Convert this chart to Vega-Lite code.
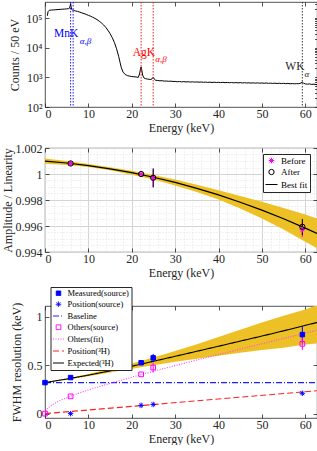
{
"$schema": "https://vega.github.io/schema/vega-lite/v6.json",
"padding": {"left": 0, "top": 1, "right": 0, "bottom": 0},
"spacing": 7,
"config": {
  "font": "Liberation Serif",
  "view": {"stroke": "#262626", "strokeWidth": 0.8},
  "style": {"guide-title": {"font": "Liberation Serif", "fontWeight": "normal", "fontSize": 12}, "guide-label": {"font": "Liberation Serif", "fontSize": 12}},
  "axis": {"domain": false, "grid": false, "labelOverlap": false, "labelFont": "Liberation Serif", "labelFontSize": 12, "labelColor": "#262626", "titleFont": "Liberation Serif", "titleFontSize": 12, "titleFontWeight": "normal", "titleColor": "#262626", "tickColor": "#262626", "tickSize": -4, "tickWidth": 0.8},
  "axisX": {"labelPadding": 5, "titlePadding": 3, "titleFont": "Liberation Serif", "titleFontWeight": "normal", "titleFontSize": 12},
  "axisY": {"labelPadding": 7, "titlePadding": 4, "titleFont": "Liberation Serif", "titleFontWeight": "normal", "titleFontSize": 12},
  "legend": {"labelFont": "Liberation Serif", "labelFontSize": 9, "labelColor": "#000000", "fillColor": "#ffffff", "strokeColor": "#262626", "padding": 2, "rowPadding": 1, "symbolStrokeWidth": 1, "labelOffset": 3}
},
"resolve": {"scale": {"x": "independent", "y": "independent", "color": "independent", "stroke": "independent", "fill": "independent", "shape": "independent", "size": "independent", "strokeDash": "independent"}},
"vconcat": [
{
 "width": 272, "height": 105,
 "resolve": {"axis": {"x": "independent", "y": "independent"}},
 "layer": [
  {"data": {"values": [
   {"E":0.55,"c":120000},{"E":0.7,"c":165000},{"E":1,"c":185000},{"E":1.5,"c":187000},{"E":2,"c":190000},{"E":2.5,"c":192000},{"E":3,"c":195000},{"E":3.5,"c":197000},{"E":4,"c":200000},{"E":4.5,"c":202000},{"E":5,"c":205000},{"E":5.4,"c":208000},{"E":5.65,"c":215000},{"E":5.8,"c":260000},{"E":5.9,"c":310000},{"E":6.0,"c":250000},{"E":6.15,"c":195000},{"E":6.35,"c":185000},{"E":6.5,"c":188000},{"E":6.7,"c":180000},{"E":7,"c":175000},{"E":7.5,"c":168000},{"E":8,"c":160000},{"E":8.5,"c":150000},{"E":9,"c":142000},{"E":9.5,"c":133000},{"E":10,"c":124000},{"E":10.5,"c":116000},{"E":11,"c":107000},{"E":11.5,"c":98000},{"E":12,"c":89000},{"E":12.5,"c":79000},{"E":13,"c":69000},{"E":13.5,"c":59000},{"E":14,"c":49000},{"E":14.5,"c":39000},{"E":15,"c":30000},{"E":15.5,"c":22000},{"E":16,"c":15000},{"E":16.5,"c":9200},{"E":17,"c":5000},{"E":17.3,"c":3200},{"E":17.6,"c":2100},{"E":18,"c":1500},{"E":18.5,"c":1250},{"E":19,"c":1150},{"E":19.5,"c":1100},{"E":20,"c":1070},{"E":20.5,"c":1050},{"E":21,"c":1030},{"E":21.5,"c":1000},{"E":21.8,"c":1300},{"E":22.0,"c":1900},{"E":22.15,"c":2250},{"E":22.3,"c":1800},{"E":22.5,"c":1200},{"E":22.8,"c":960},{"E":23.2,"c":900},{"E":23.6,"c":880},{"E":24,"c":860},{"E":24.4,"c":850},{"E":24.7,"c":900},{"E":24.95,"c":1010},{"E":25.2,"c":870},{"E":25.5,"c":800},{"E":26,"c":785},{"E":26.5,"c":765},{"E":27,"c":772},{"E":27.5,"c":748},{"E":28,"c":752},{"E":28.5,"c":738},{"E":29,"c":745},{"E":29.5,"c":728},
   {"E":30,"c":730},{"E":30.5,"c":712},{"E":31,"c":725},{"E":31.5,"c":705},{"E":32,"c":718},{"E":32.5,"c":700},{"E":33,"c":712},{"E":33.5,"c":695},{"E":34,"c":708},{"E":34.5,"c":690},{"E":35,"c":702},{"E":35.5,"c":688},{"E":36,"c":698},{"E":36.5,"c":680},{"E":37,"c":693},{"E":37.5,"c":676},{"E":38,"c":690},{"E":38.5,"c":672},{"E":39,"c":686},{"E":39.5,"c":670},{"E":40,"c":682},{"E":40.5,"c":665},{"E":41,"c":679},{"E":41.5,"c":662},{"E":42,"c":675},{"E":42.5,"c":660},{"E":43,"c":672},{"E":43.5,"c":655},{"E":44,"c":668},{"E":44.5,"c":652},{"E":45,"c":665},{"E":45.5,"c":648},{"E":46,"c":662},{"E":46.5,"c":645},{"E":47,"c":658},{"E":47.5,"c":640},{"E":48,"c":655},{"E":48.5,"c":638},{"E":49,"c":652},{"E":49.5,"c":635},{"E":50,"c":648},{"E":50.5,"c":632},{"E":51,"c":645},{"E":51.5,"c":628},{"E":52,"c":640},{"E":52.5,"c":625},{"E":53,"c":638},{"E":53.5,"c":620},{"E":54,"c":634},{"E":54.5,"c":618},{"E":55,"c":630},{"E":55.5,"c":612},{"E":56,"c":626},{"E":56.5,"c":608},{"E":57,"c":620},{"E":57.5,"c":605},{"E":58,"c":615},{"E":58.5,"c":610},{"E":59,"c":645},{"E":59.3,"c":695},{"E":59.6,"c":640},{"E":60,"c":600},{"E":60.5,"c":590},{"E":61,"c":600},{"E":61.5,"c":580},{"E":62,"c":590},{"E":62.5,"c":570},{"E":62.7,"c":575}
  ]},
   "mark": {"type": "line", "color": "#000000", "strokeWidth": 1, "clip": true},
   "encoding": {
     "x": {"field": "E", "type": "quantitative", "scale": {"domain": [0, 62.7], "nice": false, "zero": false}, "axis": {"values": [0,10,20,30,40,50,60], "title": "Energy (keV)", "titleFontWeight": "normal", "titleFont": "Liberation Serif"}},
     "y": {"field": "c", "type": "quantitative", "scale": {"type": "log", "domain": [100, 350000], "nice": false}, "axis": {"values": [100,1000,10000,100000], "labelExpr": "'10' + (datum.value < 500 ? '²' : datum.value < 5000 ? '³' : datum.value < 50000 ? '⁴' : '⁵')", "title": "Counts / 50 eV", "titleFontWeight": "normal"}}
   }},
  {"data": {"values": [{"E":5.9,"g":"Mn"},{"E":6.49,"g":"Mn"},{"E":22.16,"g":"Ag"},{"E":24.94,"g":"Ag"},{"E":59.32,"g":"W"}]},
   "mark": {"type": "rule", "strokeDash": [1.5, 1.5], "strokeWidth": 0.9},
   "encoding": {"x": {"field": "E", "type": "quantitative", "axis": null}, "color": {"field": "g", "type": "nominal", "scale": {"domain": ["Mn","Ag","W"], "range": ["#0000ff","#ff0000","#262626"]}, "legend": null}}},
  {"data": {"values": [{"E":2.1,"c":29400,"t":"MnK","g":"Mn"},{"E":20.2,"c":6670,"t":"AgK","g":"Ag"},{"E":55.4,"c":2240,"t":"WK","g":"W"}]},
   "mark": {"type": "text", "align": "left", "baseline": "middle", "fontSize": 11.5, "font": "Liberation Serif"},
   "encoding": {"x": {"field": "E", "type": "quantitative", "axis": {"orient": "top", "labels": false, "title": null, "values": [0,10,20,30,40,50,60]}}, "y": {"field": "c", "type": "quantitative", "axis": {"orient": "right", "labels": false, "title": null, "tickSize": -2.5, "values": [100,200,300,400,500,600,700,800,900,1000,2000,3000,4000,5000,6000,7000,8000,9000,10000,20000,30000,40000,50000,60000,70000,80000,90000,100000,200000,300000]}}, "text": {"field": "t"}, "color": {"field": "g", "type": "nominal", "legend": null}}},
  {"data": {"values": [{"E":8.0,"c":17000,"t":"α,β","g":"Mn"},{"E":25.4,"c":4050,"t":"α,β","g":"Ag"},{"E":59.8,"c":1260,"t":"α","g":"W"}]},
   "mark": {"type": "text", "align": "left", "baseline": "middle", "fontSize": 9, "fontStyle": "italic", "font": "Liberation Serif"},
   "encoding": {"x": {"field": "E", "type": "quantitative", "axis": null}, "y": {"field": "c", "type": "quantitative", "axis": null}, "text": {"field": "t"}, "color": {"field": "g", "type": "nominal", "legend": null}}}
 ]
},
{
 "width": 272, "height": 104,
 "resolve": {"axis": {"x": "independent", "y": "independent"}},
 "layer": [
  {"data": {"values": [
   {"E":0,"lo":1.00079,"hi":1.00119},{"E":5,"lo":1.000695,"hi":1.000995},{"E":10,"lo":1.00053,"hi":1.00077},{"E":15,"lo":1.00028,"hi":1.00052},{"E":20,"lo":0.99995,"hi":1.00025},{"E":25,"lo":0.99957,"hi":0.99993},{"E":30,"lo":0.99912,"hi":0.99958},{"E":35,"lo":0.99861,"hi":0.99917},{"E":40,"lo":0.99803,"hi":0.99875},{"E":45,"lo":0.99735,"hi":0.99831},{"E":50,"lo":0.99657,"hi":0.99787},{"E":55,"lo":0.99573,"hi":0.99739},{"E":60,"lo":0.99479,"hi":0.99689},{"E":62.7,"lo":0.99428,"hi":0.99658}
  ]},
   "mark": {"type": "area", "color": "#EDC125", "opacity": 1, "clip": true},
   "encoding": {
    "x": {"field": "E", "type": "quantitative", "scale": {"domain": [0, 62.7], "nice": false, "zero": false},
      "axis": {"values": [0,2,4,6,8,10,12,14,16,18,20,22,24,26,28,30,32,34,36,38,40,42,44,46,48,50,52,54,56,58,60,62], "labelExpr": "datum.value % 10 === 0 ? datum.label : ''", "title": "Energy (keV)", "titleFontWeight": "normal", "titleFont": "Liberation Serif", "grid": true,
        "gridColor": {"condition": {"test": "datum.value % 10 === 0", "value": "#d4d4d4"}, "value": "#e2e2e2"},
        "gridDash": {"condition": {"test": "datum.value % 10 === 0", "value": []}, "value": [1, 2]},
        "tickOpacity": {"condition": {"test": "datum.value % 10 === 0", "value": 1}, "value": 0}}},
    "y": {"field": "lo", "type": "quantitative", "scale": {"domain": [0.994, 1.002], "nice": false, "zero": false},
      "axis": {"values": [0.994,0.9945,0.995,0.9955,0.996,0.9965,0.997,0.9975,0.998,0.9985,0.999,0.9995,1,1.0005,1.001,1.0015,1.002], "labelExpr": "abs(datum.value*500 - round(datum.value*500)) < 0.01 ? format(datum.value, '.4~g') : ''", "title": "Amplitude / Linearity", "titleFontWeight": "normal", "titlePadding": 1, "grid": true,
        "gridColor": {"condition": {"test": "abs(datum.value*500 - round(datum.value*500)) < 0.01", "value": "#d4d4d4"}, "value": "#e2e2e2"},
        "gridDash": {"condition": {"test": "abs(datum.value*500 - round(datum.value*500)) < 0.01", "value": []}, "value": [1, 2]},
        "tickOpacity": {"condition": {"test": "abs(datum.value*500 - round(datum.value*500)) < 0.01", "value": 1}, "value": 0}}},
    "y2": {"field": "hi"}
   }},
  {"data": {"values": [
   {"E":0,"f":1.00099,"s":"Best fit"},{"E":5,"f":1.000845,"s":"Best fit"},{"E":10,"f":1.00065,"s":"Best fit"},{"E":15,"f":1.0004,"s":"Best fit"},{"E":20,"f":1.0001,"s":"Best fit"},{"E":25,"f":0.99975,"s":"Best fit"},{"E":30,"f":0.99935,"s":"Best fit"},{"E":35,"f":0.99889,"s":"Best fit"},{"E":40,"f":0.99839,"s":"Best fit"},{"E":45,"f":0.99783,"s":"Best fit"},{"E":50,"f":0.99722,"s":"Best fit"},{"E":55,"f":0.99656,"s":"Best fit"},{"E":60,"f":0.99584,"s":"Best fit"},{"E":62.7,"f":0.99543,"s":"Best fit"}
  ]},
   "mark": {"type": "line", "strokeWidth": 1.2, "clip": true},
   "encoding": {"x": {"field": "E", "type": "quantitative", "axis": {"orient": "top", "labels": false, "title": null, "values": [0,10,20,30,40,50,60]}}, "y": {"field": "f", "type": "quantitative", "axis": {"orient": "right", "labels": false, "title": null, "values": [0.994,0.996,0.998,1,1.002]}},
    "stroke": {"field": "s", "type": "nominal", "scale": {"domain": ["Before","After","Best fit"], "range": ["#ff00ff","#000000","#000000"]}, "legend": {"title": null, "orient": "none", "legendX": 218, "legendY": 6, "rowPadding": 0.5}}}},
  {"data": {"values": [
   {"E":24.94,"lo":0.99895,"hi":1.0004,"s":"Before"},{"E":59.32,"lo":0.99515,"hi":0.9963,"s":"Before"},
   {"E":5.9,"lo":1.00075,"hi":1.00087,"s":"After"},{"E":22.16,"lo":0.99994,"hi":1.00006,"s":"After"},{"E":24.94,"lo":0.99899,"hi":1.00043,"s":"After"},{"E":59.32,"lo":0.9953,"hi":0.99655,"s":"After"}
  ]},
   "mark": {"type": "rule", "strokeWidth": 1},
   "encoding": {"x": {"field": "E", "type": "quantitative", "axis": null}, "y": {"field": "lo", "type": "quantitative", "axis": null}, "y2": {"field": "hi"},
    "color": {"field": "s", "type": "nominal", "scale": {"domain": ["Before","After"], "range": ["#ff00ff","#000000"]}, "legend": null}}},
  {"data": {"values": [
   {"E":5.9,"v":1.00082,"s":"Before"},{"E":22.16,"v":0.99999,"s":"Before"},{"E":24.94,"v":0.99968,"s":"Before"},{"E":59.32,"v":0.99572,"s":"Before"},
   {"E":5.9,"v":1.00081,"s":"After"},{"E":22.16,"v":1.0,"s":"After"},{"E":24.94,"v":0.99971,"s":"After"},{"E":59.32,"v":0.99594,"s":"After"}
  ]},
   "mark": {"type": "point", "opacity": 1, "strokeWidth": 1},
   "encoding": {"x": {"field": "E", "type": "quantitative", "axis": null}, "y": {"field": "v", "type": "quantitative", "axis": null},
    "stroke": {"field": "s", "type": "nominal", "scale": {"domain": ["Before","After","Best fit"], "range": ["#ff00ff","#000000","#000000"]}, "legend": {"title": null}},
    "shape": {"field": "s", "type": "nominal", "scale": {"domain": ["Before","After","Best fit"], "range": ["M-1,0L1,0M0,-1L0,1M-0.7,-0.7L0.7,0.7M-0.7,0.7L0.7,-0.7","circle","stroke"]}, "legend": {"title": null}},
    "size": {"field": "s", "type": "nominal", "scale": {"type": "ordinal", "domain": ["Before","After","Best fit"], "range": [30, 28, 144]}, "legend": {"title": null}}}}
 ]
},
{
 "width": 272, "height": 112,
 "resolve": {"axis": {"x": "independent", "y": "independent"}},
 "layer": [
  {"data": {"values": [
   {"E":0,"lo":0.318,"hi":0.323},{"E":5,"lo":0.35,"hi":0.362},{"E":10,"lo":0.385,"hi":0.41},{"E":15,"lo":0.424,"hi":0.462},{"E":20,"lo":0.462,"hi":0.517},{"E":25,"lo":0.498,"hi":0.58},{"E":30,"lo":0.535,"hi":0.645},{"E":35,"lo":0.567,"hi":0.715},{"E":40,"lo":0.598,"hi":0.79},{"E":45,"lo":0.627,"hi":0.865},{"E":50,"lo":0.655,"hi":0.94},{"E":55,"lo":0.68,"hi":1.01},{"E":60,"lo":0.712,"hi":1.075},{"E":62.7,"lo":0.722,"hi":1.12}
  ]},
   "mark": {"type": "area", "color": "#EDC125", "opacity": 1, "clip": true},
   "encoding": {
    "x": {"field": "E", "type": "quantitative", "scale": {"domain": [0, 62.7], "nice": false, "zero": false}, "axis": {"values": [0,10,20,30,40,50,60], "title": "Energy (keV)", "titleFontWeight": "normal", "titleFont": "Liberation Serif"}},
    "y": {"field": "lo", "type": "quantitative", "scale": {"domain": [-0.045, 1.11], "nice": false, "zero": false}, "axis": {"values": [0, 0.5, 1], "format": "~g", "title": "FWHM resolution (keV)", "titleFontWeight": "normal"}},
    "y2": {"field": "hi"}
   }},
  {"data": {"values": [
   {"E":0,"v":0.32,"s":"Baseline"},{"E":62.7,"v":0.32,"s":"Baseline"},
   {"E":0,"v":0,"s":"Ohters(fit)"},{"E":0.5,"v":0.0495,"s":"Ohters(fit)"},{"E":1,"v":0.0704,"s":"Ohters(fit)"},{"E":2,"v":0.1006,"s":"Ohters(fit)"},{"E":3,"v":0.1246,"s":"Ohters(fit)"},{"E":4,"v":0.1454,"s":"Ohters(fit)"},{"E":6,"v":0.1818,"s":"Ohters(fit)"},{"E":8,"v":0.2141,"s":"Ohters(fit)"},{"E":10,"v":0.2439,"s":"Ohters(fit)"},{"E":15,"v":0.3124,"s":"Ohters(fit)"},{"E":20,"v":0.3758,"s":"Ohters(fit)"},{"E":25,"v":0.4363,"s":"Ohters(fit)"},{"E":30,"v":0.4951,"s":"Ohters(fit)"},{"E":35,"v":0.5526,"s":"Ohters(fit)"},{"E":40,"v":0.6093,"s":"Ohters(fit)"},{"E":45,"v":0.6653,"s":"Ohters(fit)"},{"E":50,"v":0.7208,"s":"Ohters(fit)"},{"E":55,"v":0.7759,"s":"Ohters(fit)"},{"E":60,"v":0.8307,"s":"Ohters(fit)"},{"E":62.7,"v":0.8602,"s":"Ohters(fit)"},
   {"E":0,"v":0,"s":"Position(³H)"},{"E":62.7,"v":0.236,"s":"Position(³H)"},
   {"E":0,"v":0.32,"s":"Expected(³H)"},{"E":5,"v":0.357,"s":"Expected(³H)"},{"E":10,"v":0.397,"s":"Expected(³H)"},{"E":15,"v":0.441,"s":"Expected(³H)"},{"E":20,"v":0.489,"s":"Expected(³H)"},{"E":25,"v":0.54,"s":"Expected(³H)"},{"E":30,"v":0.591,"s":"Expected(³H)"},{"E":35,"v":0.643,"s":"Expected(³H)"},{"E":40,"v":0.695,"s":"Expected(³H)"},{"E":45,"v":0.748,"s":"Expected(³H)"},{"E":50,"v":0.8,"s":"Expected(³H)"},{"E":55,"v":0.854,"s":"Expected(³H)"},{"E":60,"v":0.91,"s":"Expected(³H)"},{"E":62.7,"v":0.94,"s":"Expected(³H)"}
  ]},
   "mark": {"type": "line", "strokeWidth": 1.1, "clip": true},
   "encoding": {"x": {"field": "E", "type": "quantitative", "axis": {"orient": "top", "labels": false, "title": null, "values": [0,10,20,30,40,50,60]}}, "y": {"field": "v", "type": "quantitative", "axis": {"orient": "right", "labels": false, "title": null, "values": [0, 0.5, 1]}},
    "stroke": {"field": "s", "type": "nominal", "scale": {"domain": ["Measured(source)","Position(source)","Baseline","Others(source)","Ohters(fit)","Position(³H)","Expected(³H)"], "range": ["#0000ff","#0000ff","#2020ff","#ff00ff","#ff40ff","#ff2020","#000000"]}, "legend": {"title": null, "orient": "none", "legendX": 5.5, "legendY": -19, "labelFontSize": 8.5}},
    "strokeDash": {"field": "s", "type": "nominal", "scale": {"domain": ["Measured(source)","Position(source)","Baseline","Others(source)","Ohters(fit)","Position(³H)","Expected(³H)"], "range": [[1,0],[1,0],[6,2,1,2],[1,0],[1,1.5],[6,3],[1,0]]}, "legend": {"title": null}}}},
  {"data": {"values": [
   {"E":24.94,"lo":0.53,"hi":0.615,"s":"M"},{"E":59.32,"lo":0.73,"hi":0.9,"s":"M"},
   {"E":24.94,"lo":0.425,"hi":0.52,"s":"O"},{"E":59.32,"lo":0.655,"hi":0.79,"s":"O"}
  ]},
   "mark": {"type": "rule", "strokeWidth": 1},
   "encoding": {"x": {"field": "E", "type": "quantitative", "axis": null}, "y": {"field": "lo", "type": "quantitative", "axis": null}, "y2": {"field": "hi"},
    "color": {"field": "s", "type": "nominal", "scale": {"domain": ["M","O"], "range": ["#0000ff","#ff00ff"]}, "legend": null}}},
  {"data": {"values": [
   {"E":0,"v":0.32,"s":"Measured(source)"},{"E":5.9,"v":0.372,"s":"Measured(source)"},{"E":22.16,"v":0.525,"s":"Measured(source)"},{"E":24.94,"v":0.575,"s":"Measured(source)"},{"E":59.32,"v":0.815,"s":"Measured(source)"},
   {"E":5.9,"v":0.0,"s":"Position(source)"},{"E":22.16,"v":0.085,"s":"Position(source)"},{"E":24.94,"v":0.095,"s":"Position(source)"},{"E":59.32,"v":0.21,"s":"Position(source)"},
   {"E":0,"v":0.0,"s":"Others(source)"},{"E":5.9,"v":0.178,"s":"Others(source)"},{"E":22.16,"v":0.405,"s":"Others(source)"},{"E":24.94,"v":0.475,"s":"Others(source)"},{"E":59.32,"v":0.72,"s":"Others(source)"}
  ]},
   "mark": {"type": "point", "opacity": 1, "strokeWidth": 1},
   "encoding": {"x": {"field": "E", "type": "quantitative", "axis": null}, "y": {"field": "v", "type": "quantitative", "axis": null},
    "stroke": {"field": "s", "type": "nominal", "scale": {"domain": ["Measured(source)","Position(source)","Baseline","Others(source)","Ohters(fit)","Position(³H)","Expected(³H)"], "range": ["#0000ff","#0000ff","#2020ff","#ff00ff","#ff40ff","#ff2020","#000000"]}, "legend": {"title": null}},
    "fill": {"field": "s", "type": "nominal", "scale": {"domain": ["Measured(source)","Position(source)","Baseline","Others(source)","Ohters(fit)","Position(³H)","Expected(³H)"], "range": ["#0000ff","transparent","transparent","transparent","transparent","transparent","transparent"]}, "legend": {"title": null}},
    "shape": {"field": "s", "type": "nominal", "scale": {"domain": ["Measured(source)","Position(source)","Baseline","Others(source)","Ohters(fit)","Position(³H)","Expected(³H)"], "range": ["square","M-1,0L1,0M0,-1L0,1M-0.7,-0.7L0.7,0.7M-0.7,0.7L0.7,-0.7","stroke","square","stroke","stroke","stroke"]}, "legend": {"title": null}},
    "size": {"field": "s", "type": "nominal", "scale": {"type": "ordinal", "domain": ["Measured(source)","Position(source)","Baseline","Others(source)","Ohters(fit)","Position(³H)","Expected(³H)"], "range": [20, 30, 121, 22, 121, 121, 121]}, "legend": {"title": null}}}}
 ]
}
]
}
